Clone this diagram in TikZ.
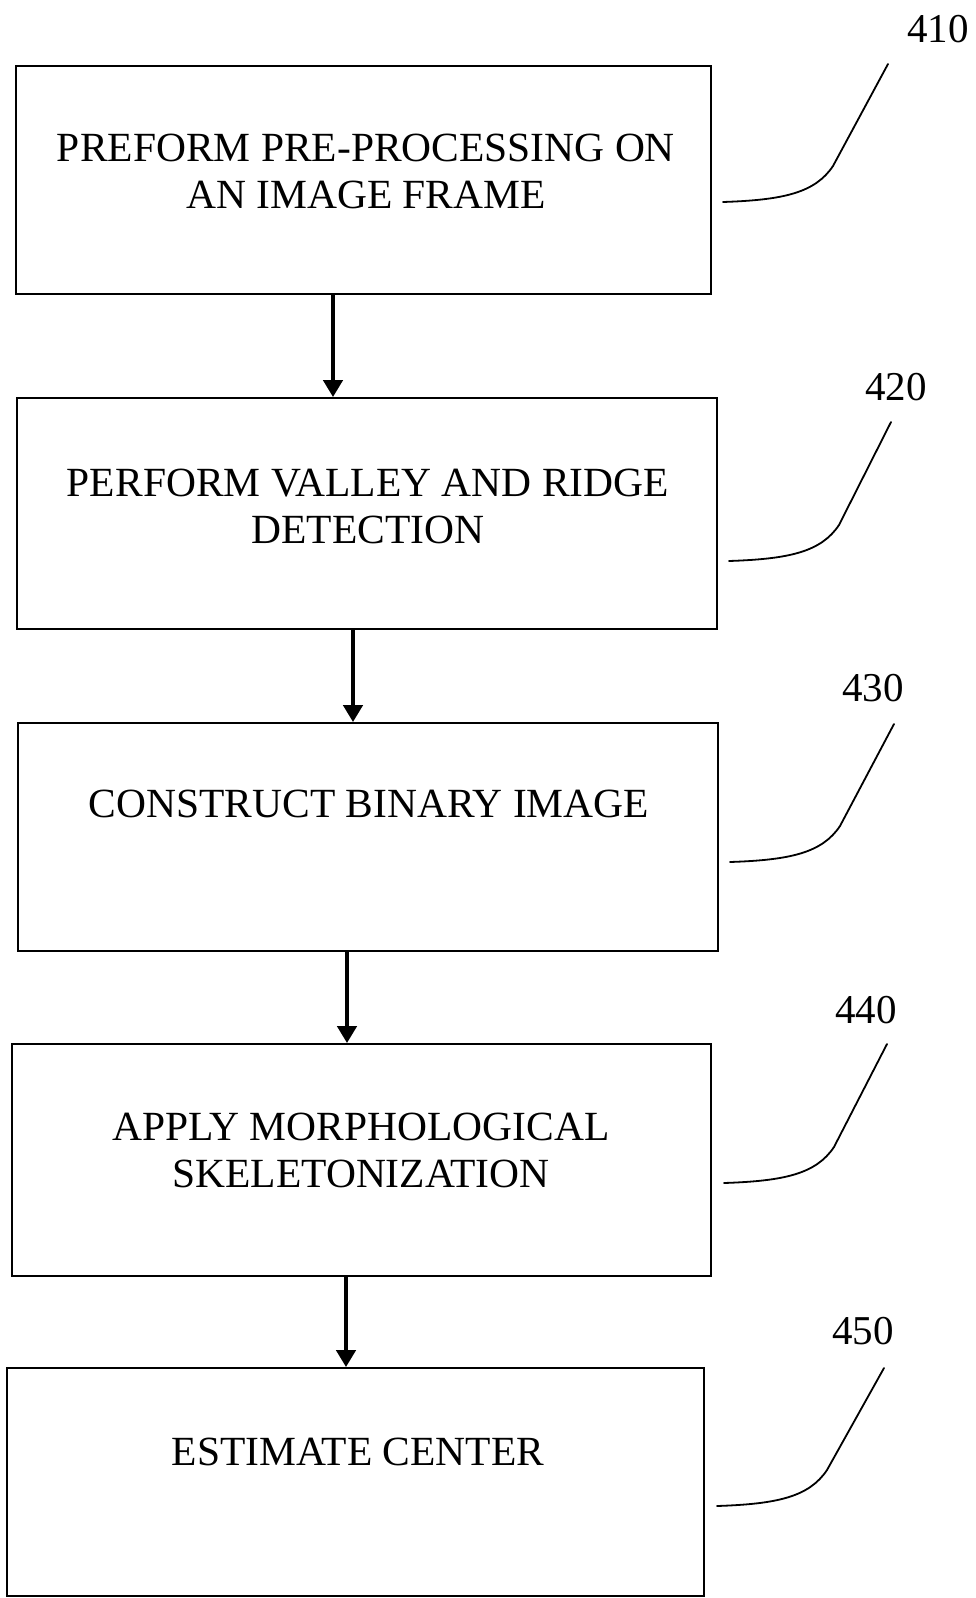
\documentclass[tikz,border=0pt]{standalone}
\usepackage{fontspec}
\setmainfont{Liberation Serif}
\usetikzlibrary{arrows.meta}
\begin{document}
\begin{tikzpicture}[x=1pt,y=-1pt,
  stepbox/.style={draw, line width=1.8pt, inner sep=0pt},
  txt/.style={font=\fontsize{41.5}{47}\selectfont, align=center, inner sep=0pt},
  lab/.style={font=\fontsize{41}{47}\selectfont, inner sep=0pt},
  flow/.style={line width=4.4pt, -{Triangle[width=19pt,length=17pt]}},
  lead/.style={line width=1.8pt, line cap=round}]
\useasboundingbox (0,0) rectangle (976,1598);
% boxes
\node[stepbox, minimum width=695pt, minimum height=228pt] (b1) at (363.5,180) {};
\node[stepbox, minimum width=700pt, minimum height=231pt] (b2) at (367,513.5) {};
\node[stepbox, minimum width=700pt, minimum height=228pt] (b3) at (368,837) {};
\node[stepbox, minimum width=699pt, minimum height=232pt] (b4) at (361.5,1160) {};
\node[stepbox, minimum width=697pt, minimum height=228pt] (b5) at (355.5,1482) {};
% texts
\node[txt] (t1) at (366,171.5) {PREFORM PRE-PROCESSING ON\\AN IMAGE FRAME};
\node[txt] (t2) at (368,506.5) {PERFORM VALLEY AND RIDGE\\DETECTION};
\node[txt] (t3) at (369,804) {CONSTRUCT BINARY IMAGE};
\node[txt] (t4) at (361,1150) {APPLY MORPHOLOGICAL\\SKELETONIZATION};
\node[txt] (t5) at (358,1452) {ESTIMATE CENTER};
% arrows
\draw[flow] (333,0 |- b1.south) -- (333,0 |- b2.north);
\draw[flow] (353,0 |- b2.south) -- (353,0 |- b3.north);
\draw[flow] (347,0 |- b3.south) -- (347,0 |- b4.north);
\draw[flow] (346,0 |- b4.south) -- (346,0 |- b5.north);
% reference labels
\node[lab] (l1) at (938,29) {410};
\node[lab] (l2) at (896,387) {420};
\node[lab] (l3) at (873,688) {430};
\node[lab] (l4) at (866,1010) {440};
\node[lab] (l5) at (863,1331) {450};
% leader lines
\coordinate (s1) at (723,202);  \coordinate (e1) at (888,64);
\coordinate (s2) at (729,561);  \coordinate (e2) at (891,422);
\coordinate (s3) at (730,862);  \coordinate (e3) at (894,724);
\coordinate (s4) at (724,1183); \coordinate (e4) at (887,1044);
\coordinate (s5) at (717,1506); \coordinate (e5) at (884,1368);
\foreach \i in {1,...,5}{
  \draw[lead] (s\i) .. controls +(60,-2) and +(-18,27) .. ++(110,-36) -- (e\i);
}
\end{tikzpicture}
\end{document}
